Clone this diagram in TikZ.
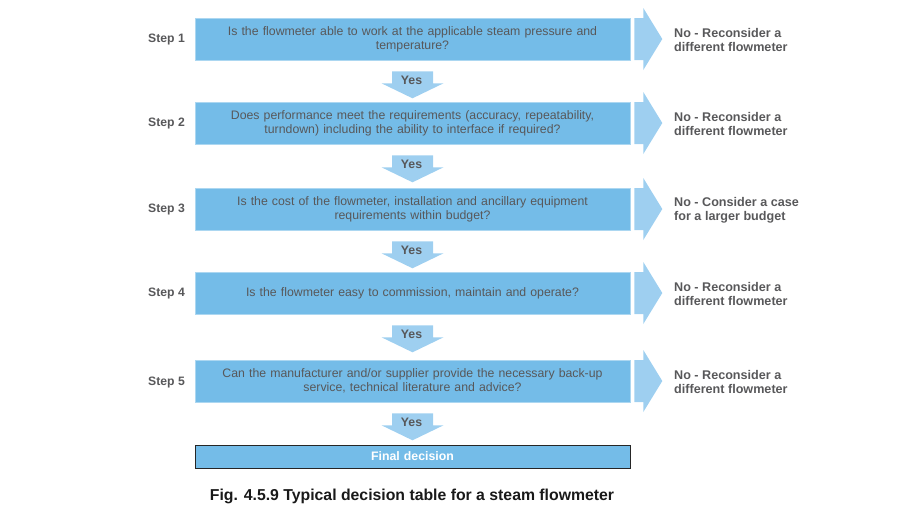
\documentclass[tikz,border=0pt]{standalone}
\usepackage{fontspec}
\setmainfont{Liberation Sans}
\usepackage{xcolor}
\definecolor{xbox}{HTML}{74BCE8}
\definecolor{xarrow}{HTML}{9ECFF0}
\definecolor{xtext}{HTML}{58585A}
\usetikzlibrary{positioning, calc}
\tikzset{
	qbox/.style={fill=xbox, draw=xbox!60!white, line width=0.6pt, minimum width=435pt, minimum height=42pt, text width=420pt, align=center, text=xtext, font=\fontsize{12.3}{14}\selectfont, inner sep=0pt},
	steplabel/.style={anchor=east, text=xtext, font=\fontsize{12.2}{14}\selectfont\bfseries, inner sep=0pt},
	notext/.style={anchor=west, align=left, text=xtext, font=\fontsize{12.6}{14}\selectfont\bfseries, inner sep=0pt},
	yeslabel/.style={text=xtext, font=\fontsize{12.3}{14}\selectfont\bfseries, inner sep=0pt},
	blockarrow/.style={fill=xarrow},
}

\begin{document}
\begin{tikzpicture}[x=1pt, y=-1pt]
		\useasboundingbox (0,0) rectangle (900,520);

		% Questions
		\node[qbox] (q1) at (412.5,39) {Is the flowmeter able to work at the applicable steam pressure and\\temperature?};
		\node[qbox] (q2) at (412.5,123) {Does performance meet the requirements (accuracy, repeatability,\\turndown) including the ability to interface if required?};
		\node[qbox] (q3) at (412.5,209) {Is the cost of the flowmeter, installation and ancillary equipment\\requirements within budget?};
		\node[qbox] (q4) at (412.5,293) {Is the flowmeter easy to commission, maintain and operate?};
		\node[qbox] (q5) at (412.5,381) {Can the manufacturer and/or supplier provide the necessary back-up\\service, technical literature and advice?};

		\node[qbox, minimum height=23pt, draw=black!85, line width=1pt, text=white, font=\fontsize{12.3}{14}\selectfont\bfseries] (fin) at (412.5,456.5) {Final decision};

		% Step labels
		\node[steplabel] (s1) at (185,40) {Step 1};
		\node[steplabel] (s2) at (185,124) {Step 2};
		\node[steplabel] (s3) at (185,210) {Step 3};
		\node[steplabel] (s4) at (185,294) {Step 4};
		\node[steplabel] (s5) at (185,382) {Step 5};

		% No arrows
		\foreach \b in {q1,q2,q3,q4,q5} {
			\fill[blockarrow] (\b.east) ++(4,-21) -- ++(9,0) -- ++(0,-10) -- ++(19,31) -- ++(-19,31) -- ++(0,-10) -- ++(-9,0) -- cycle;
			\fill[blockarrow] (\b.south) ++(-20.5,11) -- ++(41,0) -- ++(0,12) -- ++(10.5,0) -- ++(-31,15) -- ++(-31,-15) -- ++(10.5,0) -- cycle;
		}

		\node[notext] (n1) at (674,40) {No - Reconsider a\\different flowmeter};
		\node[notext] (n2) at (674,124) {No - Reconsider a\\different flowmeter};
		\node[notext] (n3) at (674,210) {No - Consider a case\\for a larger budget};
		\node[notext] (n4) at (674,294) {No - Reconsider a\\different flowmeter};
		\node[notext] (n5) at (674,382) {No - Reconsider a\\different flowmeter};

		% Yes labels
		\node[yeslabel] (y1) at ($(q1.south)+(-1,20)$) {Yes};
		\node[yeslabel] (y2) at ($(q2.south)+(-1,20)$) {Yes};
		\node[yeslabel] (y3) at ($(q3.south)+(-1,20)$) {Yes};
		\node[yeslabel] (y4) at ($(q4.south)+(-1,20)$) {Yes};
		\node[yeslabel] (y5) at ($(q5.south)+(-1,20)$) {Yes};

		% Caption
		\node[font=\fontsize{15.8}{18}\selectfont\bfseries, text=black!90] (cap) at (412,496) {Fig. 4.5.9 Typical decision table for a steam flowmeter};
	\end{tikzpicture}
\end{document}
